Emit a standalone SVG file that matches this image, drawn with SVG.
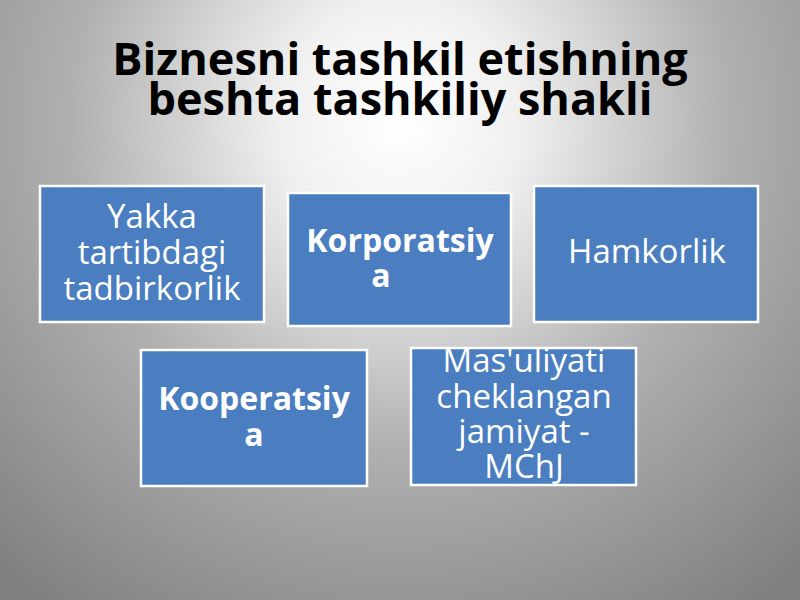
<svg xmlns="http://www.w3.org/2000/svg" width="800" height="600" viewBox="0 0 800 600">
<defs>
<radialGradient id="bg" cx="400" cy="120" r="600" gradientUnits="userSpaceOnUse">
<stop offset="0" stop-color="#ffffff"/>
<stop offset="0.2" stop-color="#f0f0f0"/>
<stop offset="0.55" stop-color="#b0b0b0"/>
<stop offset="1" stop-color="#808080"/>
</radialGradient>
<style>
.box{fill:#4a7ec0;stroke:#ffffff;stroke-width:2.5}
.t{font-family:"Open Sans","Noto Sans",sans-serif;fill:#ffffff;font-size:33px;text-anchor:middle}
.b{font-weight:bold;font-size:32px}
.title{font-family:"Open Sans","Noto Sans",sans-serif;font-weight:bold;font-size:45px;fill:#000;text-anchor:middle}
</style>
</defs>
<rect width="800" height="600" fill="url(#bg)"/>
<g id="title">
<text class="title" x="400" y="75">Biznesni tashkil etishning</text>
<text class="title" x="400" y="115">beshta tashkiliy shakli</text>
</g>
<g id="node1">
<rect class="box" x="40" y="186" width="224" height="136"/>
<text class="t" x="152" y="228">Yakka</text>
<text class="t" x="152" y="264">tartibdagi</text>
<text class="t" x="152" y="300">tadbirkorlik</text>
</g>
<g id="node2">
<rect class="box" x="288" y="193" width="223" height="133"/>
<text class="t b" x="400" y="252">Korporatsiy</text>
<text class="t b" x="381" y="287">a</text>
</g>
<g id="node3">
<rect class="box" x="534" y="186" width="224" height="136"/>
<text class="t" x="647" y="263">Hamkorlik</text>
</g>
<g id="node4">
<rect class="box" x="141" y="350" width="226" height="136"/>
<text class="t b" x="254" y="410">Kooperatsiy</text>
<text class="t b" x="254" y="446">a</text>
</g>
<g id="node5">
<rect class="box" x="411" y="348" width="225" height="137"/>
<text class="t" x="524" y="372">Mas'uliyati</text>
<text class="t" x="524" y="408">cheklangan</text>
<text class="t" x="524" y="443">jamiyat -</text>
<text class="t" x="524" y="478">MChJ</text>
</g>
<g id="connectors"/>
</svg>
